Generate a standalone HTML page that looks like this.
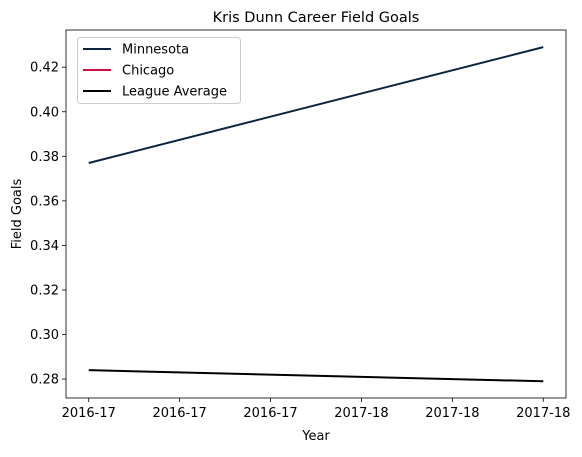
<!DOCTYPE html>
<html><head><meta charset="utf-8"><style>
body{margin:0;background:#fff;font-family:"DejaVu Sans","Liberation Sans",sans-serif;}
svg text{font-family:"DejaVu Sans","Liberation Sans",sans-serif;fill:#000;}
</style></head><body>
<svg id="chart" width="582" height="453">
<text x="316" y="22" font-size="14.5" text-anchor="middle">Kris Dunn Career Field Goals</text>
<g id="plot"></g>
<text x="316" y="440" font-size="13" text-anchor="middle">Year</text>
<text transform="translate(21,214) rotate(-90)" font-size="13" text-anchor="middle">Field Goals</text>
</svg>
<script>
const xTickLabels = ["2016-17","2016-17","2016-17","2017-18","2017-18","2017-18"];
const xTickValues = [0,0.2,0.4,0.6,0.8,1.0];
const yTicks = [0.28,0.30,0.32,0.34,0.36,0.38,0.40,0.42];
const seriesX = [0,1];
const minnesota = [0.377,0.429];
const chicago = [];
const league = [0.284,0.279];

const L=66,R=566,T=30,B=398;
const xmin=-0.05,xmax=1.05,ymin=0.2715,ymax=0.4367;
const xs=v=>L+(v-xmin)/(xmax-xmin)*(R-L);
const ys=v=>B-(v-ymin)/(ymax-ymin)*(B-T);
const NS="http://www.w3.org/2000/svg";
const g=document.getElementById('plot');
function mk(t,a){const e=document.createElementNS(NS,t);for(const k in a)e.setAttribute(k,a[k]);g.appendChild(e);return e;}
yTicks.forEach(v=>{
 const y=ys(v);
 const t=mk('line',{x1:L-4,x2:L,y1:y,y2:y,stroke:'#000','stroke-width':0.8});
 
 
 const l=mk('text',{x:L-7,y:y+4.5,'font-size':13,'text-anchor':'end'});
 l.textContent=v.toFixed(2);
 
 
});
xTickValues.forEach((v,i)=>{
 const x=xs(v);
 const t=mk('line',{x1:x,x2:x,y1:B,y2:B+4,stroke:'#000','stroke-width':0.8});
 
 
 const l=mk('text',{x:x,y:B+19,'font-size':13,'text-anchor':'middle'});
 l.textContent=xTickLabels[i];
 
 
});
function line(vals,color,name){
 if(!vals.length)return;
 const p=mk('polyline',{points:vals.map((v,i)=>xs(seriesX[i])+','+ys(v)).join(' '),fill:'none',stroke:color,'stroke-width':2});
 
 
}
line(minnesota,'#0c2340','minnesota-line');
line(chicago,'#ce1141','chicago-line');
line(league,'#000','league-average-line');
const f=mk('rect',{x:L,y:T,width:R-L,height:B-T,fill:'none',stroke:'#000','stroke-width':0.8});


const lg=mk('rect',{x:77.5,y:37.5,width:163,height:66,rx:3,fill:'#fff','fill-opacity':0.8,stroke:'#ccc'});


[['Minnesota','#0c2340'],['Chicago','#ce1141'],['League Average','#000']].forEach((e,i)=>{
 const y=49+i*21;
 const s=mk('line',{x1:83,x2:111,y1:y,y2:y,stroke:e[1],'stroke-width':2});
 
 
 const t=mk('text',{x:122,y:y+4.5,'font-size':13});
 t.textContent=e[0];
 
 
});
</script>
</body></html>
